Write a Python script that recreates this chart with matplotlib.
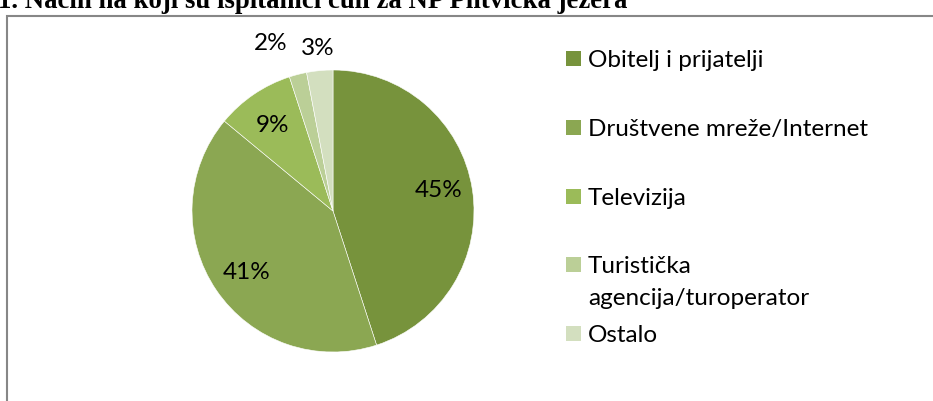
import matplotlib
matplotlib.use("Agg")
import matplotlib.pyplot as plt
from matplotlib.patches import Rectangle
import numpy as np

categories = ["Obitelj i prijatelji", "Društvene mreže/Internet", "Televizija",
              "Turistička\nagencija/turoperator", "Ostalo"]
values = [45, 41, 9, 2, 3]
labels = ["45%", "41%", "9%", "2%", "3%"]
colors = ["#77933C", "#8BA752", "#9BBB59", "#BBCF97", "#D3DFBF"]
title = "1. Način na koji su ispitanici čuli za NP Plitvička jezera"

W, H = 933, 402
fig = plt.figure(figsize=(W / 100, H / 100), dpi=100)
FONT = "Lato"
FS = 17.5

# frame of the chart area (extends beyond the crop on right/bottom)
fig.patches.append(Rectangle((7.5 / W, -0.1), 1.2, (H - 16.5) / H + 0.1,
                             transform=fig.transFigure, fill=False,
                             edgecolor="#878787", linewidth=1.5))

# clipped title at the very top
t = fig.text(-2 / W, 1 - 7.5 / H, title, family="Liberation Serif", weight="bold",
             fontsize=14.5, va="baseline", ha="left")
renderer = fig.canvas.get_renderer()
bb = t.get_window_extent(renderer)
t.set_fontsize(14.5 * (627 + 2) / bb.width)

# pie
cx, cy, r = 333, 212, 141
ax = fig.add_axes([(cx - r) / W, (H - cy - r) / H, 2 * r / W, 2 * r / H])
wedges, _ = ax.pie(values, colors=colors, startangle=90, counterclock=False,
                   wedgeprops=dict(edgecolor="white", linewidth=0.4))
ax.set_xlim(-1, 1)
ax.set_ylim(-1, 1)
ax.set_aspect("equal")
ax.axis("off")

half_cap = 0.72 * FS / 2
dist = [0.76, 0.74, 0.76, 1.25, 1.18]
offsets = [(0, 5), (0, 0), (0, 0), (-13, 0), (0, 0)]
for w, lab, d, off in zip(wedges, labels, dist, offsets):
    ang = np.deg2rad((w.theta1 + w.theta2) / 2)
    ax.annotate(lab, (d * np.cos(ang), d * np.sin(ang)),
                xytext=(off[0], off[1] - half_cap),
                textcoords="offset points", ha="center", va="baseline",
                fontsize=FS, family=FONT, color="#000000", annotation_clip=False)

# legend (manual, Excel-like spacing)
rows = [59, 128, 197, 265, 334]
sq = 15
for yc, lab, col in zip(rows, categories, colors):
    fig.patches.append(Rectangle((566 / W, (H - yc - sq / 2) / H), sq / W, sq / H,
                                 transform=fig.transFigure, facecolor=col,
                                 edgecolor="none"))
    lines = lab.split("\n")
    for i, ln in enumerate(lines):
        fig.text(588 / W, (H - (yc + 8 + 32 * i)) / H, ln, family=FONT,
                 fontsize=FS, va="baseline", ha="left")

fig.savefig("out.png", dpi=100, facecolor="white")
